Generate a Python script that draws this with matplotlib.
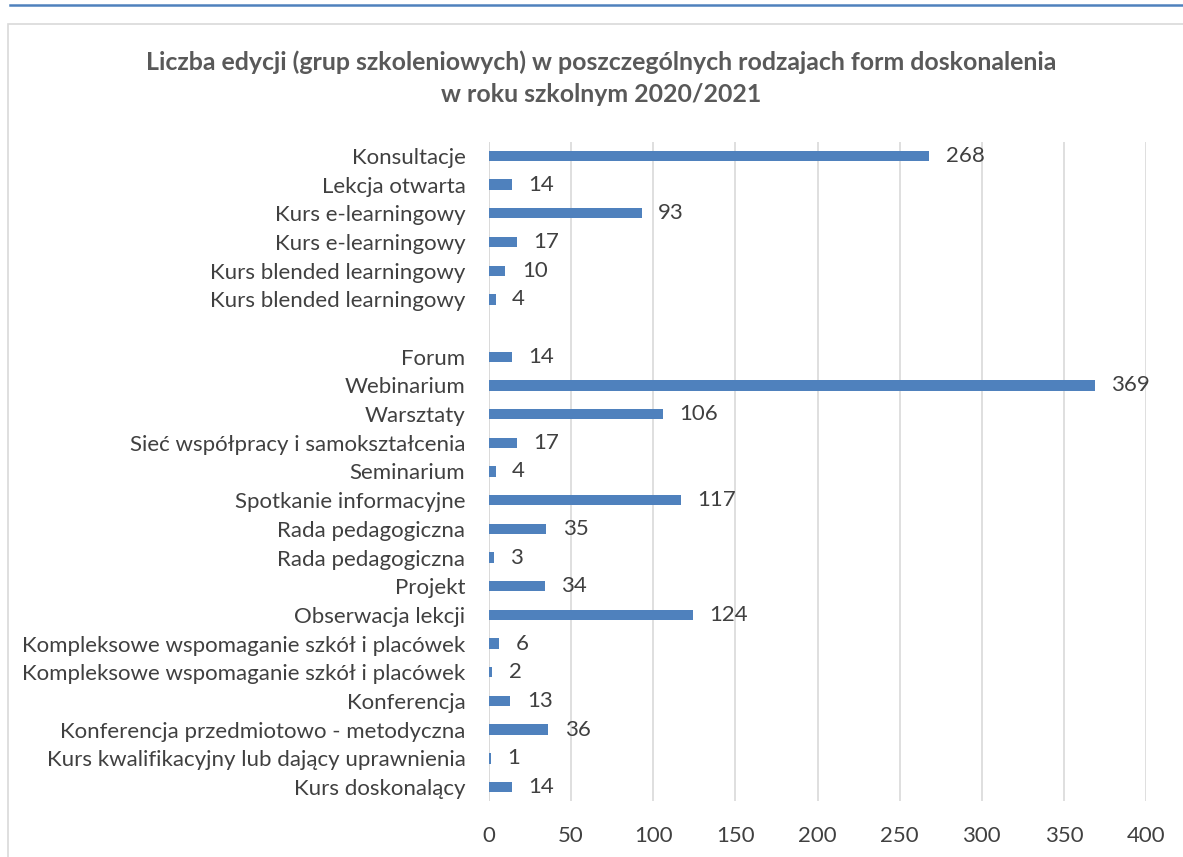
import numpy as np
import matplotlib.pyplot as plt
import matplotlib as mpl
from matplotlib.lines import Line2D
from matplotlib.patches import Rectangle

mpl.rcParams.update({
    "font.family": ["Lato", "DejaVu Sans"],
    "figure.dpi": 100,
})

TITLE = ("Liczba edycji (grup szkoleniowych) w poszczególnych rodzajach form doskonalenia\n"
         "w roku szkolnym 2020/2021")

# top to bottom, as in the picture (empty slot between the two blocks)
LABELS = [
    "Konsultacje",
    "Lekcja otwarta",
    "Kurs e-learningowy",
    "Kurs e-learningowy",
    "Kurs blended learningowy",
    "Kurs blended learningowy",
    "",
    "Forum",
    "Webinarium",
    "Warsztaty",
    "Sieć współpracy i samokształcenia",
    "Seminarium",
    "Spotkanie informacyjne",
    "Rada pedagogiczna",
    "Rada pedagogiczna",
    "Projekt",
    "Obserwacja lekcji",
    "Kompleksowe wspomaganie szkół i placówek",
    "Kompleksowe wspomaganie szkół i placówek",
    "Konferencja",
    "Konferencja przedmiotowo - metodyczna",
    "Kurs kwalifikacyjny lub dający uprawnienia",
    "Kurs doskonalący",
]
VALUES = [268, 14, 93, 17, 10, 4, None, 14, 369, 106, 17, 4, 117, 35, 3, 34,
          124, 6, 2, 13, 36, 1, 14]

XTICKS = [0, 50, 100, 150, 200, 250, 300, 350, 400]

BAR_COLOR = "#4f81bd"
TEXT_COLOR = "#404040"
GRID_COLOR = "#d9d9d9"


def plot():
    fig = plt.figure(figsize=(11.83, 8.57))

    # blue rule at the very top and the chart frame
    fig.add_artist(Line2D([10 / 1183, 1], [1 - 5 / 857, 1 - 5 / 857],
                          color=BAR_COLOR, linewidth=1.8, transform=fig.transFigure))
    fig.add_artist(Rectangle((8 / 1183, -0.1), 1.2, 1 - 24 / 857 + 0.1,
                             transform=fig.transFigure, fill=False,
                             edgecolor=GRID_COLOR, linewidth=1.2))

    ax = fig.add_axes([489 / 1183, 0.0649, (1146 - 489) / 1183, 0.8348 - 0.0649])

    n = len(LABELS)
    pos = np.arange(n)
    for p, v in zip(pos, VALUES):
        if v is None:
            continue
        ax.barh(p, v, height=0.36, color=BAR_COLOR, zorder=3)
        ax.text(v + 10, p, str(v), va="center", ha="left", fontsize=16,
                color=TEXT_COLOR)

    ax.set_ylim(n - 0.5, -0.5)
    ax.set_xlim(0, 400)
    ax.set_yticks(pos)
    ax.set_yticklabels(LABELS, fontsize=16, color=TEXT_COLOR)
    ax.set_xticks(XTICKS)
    ax.set_xticklabels([str(t) for t in XTICKS], fontsize=16, color=TEXT_COLOR)
    ax.tick_params(length=0, axis="both")
    ax.tick_params(axis="y", pad=17)
    ax.tick_params(axis="x", pad=18)
    ax.grid(axis="x", color=GRID_COLOR, linewidth=1.2, zorder=0)
    for s in ax.spines.values():
        s.set_visible(False)
    ax.axvline(0, color=GRID_COLOR, linewidth=1.2, zorder=1)

    fig.text(601 / 1183, 1 - 78 / 857, TITLE, ha="center", va="center",
             fontsize=17.9, fontweight="bold", color="#595959", linespacing=1.5)

    fig.savefig("out.png", dpi=100)


if __name__ == "__main__":
    plot()
